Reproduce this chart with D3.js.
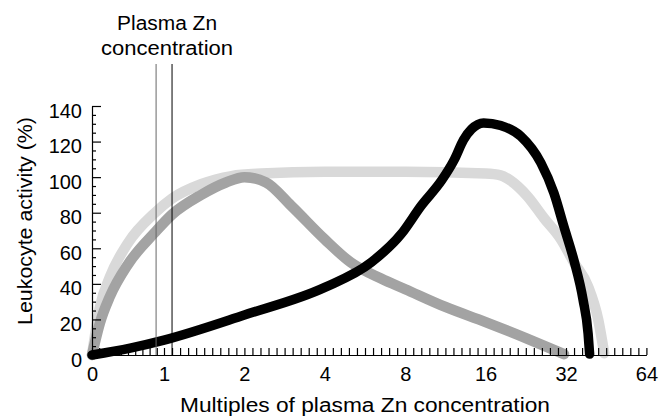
<!DOCTYPE html>
<html>
<head>
<meta charset="utf-8">
<script src="https://cdn.jsdelivr.net/npm/d3@7/dist/d3.min.js"></script>
<style>
  html, body { margin: 0; padding: 0; background: #fff; }
  svg { display: block; font-family: "Liberation Sans", Arial, Helvetica, sans-serif; }
</style>
</head>
<body>
<svg id="chart" width="666" height="416"></svg>
<script>
// ---------- data ----------
const xCategories = [0, 1, 2, 4, 8, 16, 32, 64];          // x tick labels (multiples)
const yTickValues = [0, 20, 40, 60, 80, 100, 120, 140];    // y tick labels (%)
const plasmaRange = [0.89, 1.1];                           // plasma Zn concentration band

// light grey curve
const seriesLight = [
  [0, 0], [0.11, 27], [0.25, 44], [0.5, 63], [0.875, 80], [1.1, 88], [1.46, 96], [1.84, 100.6],
  [2.42, 102], [4, 103], [8, 103], [16, 102], [19, 101], [21, 98], [24.4, 89],
  [27.6, 77], [31, 65], [35.2, 52], [40.8, 38.5], [44.8, 20], [47.2, 1]
];
// medium grey curve
const seriesMid = [
  [0, 0], [0.11, 18], [0.25, 33], [0.5, 51], [0.875, 69], [1.1, 79], [1.46, 90], [1.77, 97], [2, 100],
  [2.54, 97], [3.16, 84], [4, 65], [5.3, 52], [6.8, 43], [8, 37], [12, 27],
  [16, 18.5], [24, 9.5], [31.6, 0.5]
];
// black curve
const seriesBlack = [
  [0, 0], [0.53, 3.9], [1, 8.4], [2, 22.5], [4, 38], [6.3, 52], [7.8, 68], [9.6, 84],
  [11.6, 98], [12.9, 110], [13.8, 121], [14.6, 127], [15.8, 130.5], [19, 129], [23, 123],
  [27, 108], [29.6, 91], [31.6, 72], [35.2, 53], [38.8, 31], [40.8, 12], [41.4, 0.5]
];

// ---------- layout ----------
const svg = d3.select("#chart");
const x0 = 92, firstW = 72, step = 80.4;
const xRange = xCategories.map((d, i) => i === 0 ? x0 : x0 + firstW + (i - 1) * step);
const x = d3.scaleLinear().domain(xCategories).range(xRange);
const y = d3.scaleLinear().domain([0, 140]).range([355, 106]);

// minor x ticks: 10 per interval
const xMinor = [];
for (let i = 0; i < xCategories.length - 1; i++) {
  for (let k = 1; k < 10; k++) {
    xMinor.push(xCategories[i] + (xCategories[i + 1] - xCategories[i]) * k / 10);
  }
}
const yMinor = d3.range(5, 140, 5).filter(v => v % 20 !== 0);

// ---------- curves ----------
const line = d3.line()
  .x(d => x(d[0]))
  .y(d => y(d[1]))
  .curve(d3.curveMonotoneX);

const curves = [
  { data: seriesLight, color: "#d9d9d9", width: 10.5 },
  { data: seriesMid, color: "#a3a3a3", width: 10.5 },
  { data: seriesBlack, color: "#000000", width: 9.5 }
];
svg.append("g").selectAll("path").data(curves).join("path")
  .attr("d", d => line(d.data))
  .attr("fill", "none")
  .attr("stroke", d => d.color)
  .attr("stroke-width", d => d.width)
  .attr("stroke-linecap", "round")
  .attr("stroke-linejoin", "round");

// ---------- axes ----------
const xAxisMinor = d3.axisBottom(x).tickValues(xMinor).tickSize(-7).tickSizeOuter(0).tickFormat("");
const xAxis = d3.axisBottom(x).tickValues(xCategories).tickSize(-7).tickSizeOuter(0).tickPadding(12)
  .tickFormat(d3.format("d"));
const gxm = svg.append("g").attr("transform", `translate(0,${y(0)})`).call(xAxisMinor);
const gx = svg.append("g").attr("transform", `translate(0,${y(0)})`).call(xAxis);
gxm.select(".domain").remove();

const yAxisMinor = d3.axisLeft(y).tickValues(yMinor).tickSize(-4).tickSizeOuter(0).tickFormat("");
const yAxis = d3.axisLeft(y).tickValues(yTickValues).tickSize(-9).tickSizeOuter(0).tickPadding(10);
const gym = svg.append("g").attr("transform", `translate(${x(0)},0)`).call(yAxisMinor);
const gy = svg.append("g").attr("transform", `translate(${x(0)},0)`).call(yAxis);
gym.select(".domain").remove();

[gx, gy, gxm, gym].forEach(g => {
  g.selectAll("path, line").attr("stroke", "#000").attr("stroke-width", 1.2);
  g.selectAll("text").attr("font-size", 20).attr("fill", "#000")
    .attr("font-family", "'Liberation Sans', Arial, sans-serif");
});
gy.selectAll("text").attr("dy", "0.55em");

// ---------- plasma Zn lines ----------
svg.append("g").selectAll("line").data(plasmaRange).join("line")
  .attr("x1", d => x(d)).attr("x2", d => x(d))
  .attr("y1", 64).attr("y2", y(0))
  .attr("stroke", (d, i) => i === 0 ? "#666" : "#000")
  .attr("stroke-width", 1);

const cx = (x(plasmaRange[0]) + x(plasmaRange[1])) / 2 + 3;
svg.append("text").attr("x", cx).attr("y", 30).attr("text-anchor", "middle")
  .attr("font-size", 20).attr("textLength", 100).attr("lengthAdjust", "spacingAndGlyphs")
  .text("Plasma Zn");
svg.append("text").attr("x", cx).attr("y", 55).attr("text-anchor", "middle")
  .attr("font-size", 20).attr("textLength", 132).attr("lengthAdjust", "spacingAndGlyphs")
  .text("concentration");

// ---------- axis titles ----------
svg.append("text").attr("x", 365).attr("y", 412).attr("text-anchor", "middle")
  .attr("font-size", 20).attr("textLength", 370).attr("lengthAdjust", "spacingAndGlyphs")
  .text("Multiples of plasma Zn concentration");
svg.append("text").attr("transform", "translate(32,221) rotate(-90)").attr("text-anchor", "middle")
  .attr("font-size", 20).attr("textLength", 208).attr("lengthAdjust", "spacingAndGlyphs")
  .text("Leukocyte activity (%)");
</script>
</body>
</html>
